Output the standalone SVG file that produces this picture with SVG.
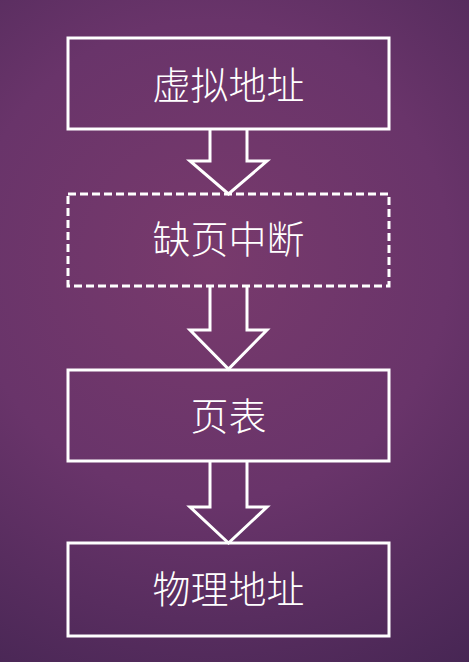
<svg xmlns="http://www.w3.org/2000/svg" width="469" height="662" viewBox="0 0 469 662">
<defs>
<radialGradient id="bg" cx="210" cy="260" r="480" gradientUnits="userSpaceOnUse">
<stop offset="0" stop-color="#783a6c"/>
<stop offset="0.5" stop-color="#69346a"/>
<stop offset="1" stop-color="#472654"/>
</radialGradient>
<style>
.box{fill:none;stroke:#ffffff;stroke-width:3}
.dash{stroke-dasharray:8 4}
.arrow{fill:none;stroke:#ffffff;stroke-width:3;stroke-linejoin:miter}
.lbl{fill:#ffffff;font-family:"Noto Sans CJK SC","Noto Sans",sans-serif;font-weight:300;font-size:38px;text-anchor:middle}
</style>
</defs>
<rect width="469" height="662" fill="url(#bg)"/>
<g id="connectors">
<polyline class="arrow" points="210,129 210,161 190,161 228.5,194 267,161 247,161 247,129"/>
<polyline class="arrow" points="210,286 210,330 190,330 228.5,369 267,330 247,330 247,286"/>
<polyline class="arrow" points="210,461 210,507 190,507 228.5,543 267,507 247,507 247,461"/>
</g>
<g id="virtual-address">
<rect class="box" x="68" y="38" width="321" height="91"/>
<text class="lbl" x="228.5" y="99">虚拟地址</text>
</g>
<g id="page-fault">
<rect class="box dash" x="68" y="194" width="321" height="92"/>
<text class="lbl" x="228.5" y="253">缺页中断</text>
</g>
<g id="page-table">
<rect class="box" x="68" y="370" width="321" height="91"/>
<text class="lbl" x="228.5" y="430">页表</text>
</g>
<g id="physical-address">
<rect class="box" x="68" y="543" width="321" height="93"/>
<text class="lbl" x="228.5" y="603">物理地址</text>
</g>
</svg>
